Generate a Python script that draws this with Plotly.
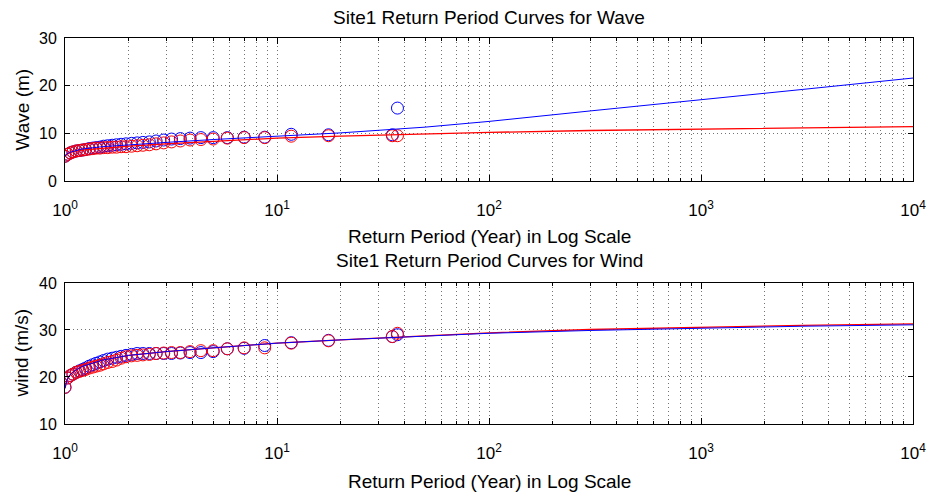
import plotly.graph_objects as go

# ---------------- data ----------------
return_period = [1.0, 1.03, 1.06, 1.09, 1.13, 1.17, 1.21, 1.25, 1.30, 1.35,
                 1.40, 1.46, 1.52, 1.59, 1.67, 1.75, 1.84, 1.94, 2.06, 2.19,
                 2.33, 2.5, 2.69, 2.92, 3.18, 3.5, 3.89, 4.375, 5.0, 5.83,
                 7.0, 8.75, 11.67, 17.5, 35.0, 37.0]

wave_red_pts = [5.2, 5.6, 5.9, 6.1, 6.3, 6.4, 6.5, 6.6, 6.7, 6.8,
                6.9, 6.9, 7.0, 7.0, 7.1, 7.1, 7.2, 7.2, 7.3, 7.4,
                7.5, 7.6, 7.8, 8.0, 8.2, 8.4, 8.6, 8.7, 8.8, 9.0,
                9.1, 9.1, 9.4, 9.5, 9.5, 9.5]
wave_blue_pts = [5.2, 5.6, 5.9, 6.1, 6.3, 6.4, 6.5, 6.6, 6.8, 6.9,
                 7.0, 7.1, 7.3, 7.4, 7.5, 7.6, 7.7, 7.8, 7.9, 8.0,
                 8.1, 8.2, 8.4, 8.6, 8.8, 8.9, 9.0, 9.1, 9.1, 9.1,
                 9.2, 9.2, 9.8, 9.7, 9.7, 15.3]
wind_red_pts = [17.8, 19.8, 20.3, 20.6, 21.0, 21.2, 21.4, 21.6, 21.9, 22.1,
                22.3, 22.5, 22.8, 23.1, 23.3, 23.6, 24.0, 24.3, 24.5, 24.6,
                24.7, 24.8, 25.0, 25.1, 25.2, 25.2, 25.4, 25.6, 25.6, 26.0,
                26.2, 26.2, 27.2, 27.7, 28.6, 29.3]
wind_blue_pts = [17.8, 19.8, 20.3, 20.6, 21.0, 21.3, 21.6, 21.9, 22.3, 22.6,
                 22.9, 23.2, 23.5, 23.8, 24.0, 24.2, 24.4, 24.6, 24.8, 25.0,
                 25.0, 25.0, 25.0, 25.0, 25.0, 25.1, 25.2, 25.2, 25.4, 26.0,
                 26.1, 26.7, 27.3, 27.8, 28.6, 29.0]

fit_period = [1.0, 1.02, 1.05, 1.1, 1.2, 1.5, 2, 3, 5, 10, 20, 50, 100,
              300, 1000, 3000, 10000]
wave_red_fit = [5.2, 5.6, 5.9, 6.2, 6.5, 6.9, 7.3, 7.8, 8.3, 9.0, 9.4, 9.9,
                10.2, 10.6, 10.9, 11.2, 11.4]
wave_blue_fit = [5.2, 5.7, 6.0, 6.3, 6.7, 7.2, 7.6, 8.1, 8.7, 9.4, 10.1, 11.3,
                 12.5, 14.7, 17.0, 19.2, 21.6]
wind_red_fit = [17.6, 19.3, 20.3, 21.2, 22.2, 23.6, 24.6, 25.4, 26.2, 27.2,
                27.9, 28.8, 29.4, 30.1, 30.6, 31.0, 31.3]
wind_blue_fit = [17.6, 19.3, 20.3, 21.2, 22.2, 23.6, 24.6, 25.4, 26.2, 27.2,
                 27.9, 28.7, 29.3, 29.9, 30.4, 30.8, 31.1]

decades = [1, 10, 100, 1000, 10000]
decade_labels = ["10<sup>0</sup>", "10<sup>1</sup>", "10<sup>2</sup>",
                 "10<sup>3</sup>", "10<sup>4</sup>"]
wave_ticks = [0, 10, 20, 30]
wind_ticks = [10, 20, 30, 40]

titles = ["Site1 Return Period Curves for Wave", "Site1 Return Period Curves for Wind"]
xlabel = "Return Period (Year) in Log Scale"
ylabels = ["Wave (m)", "wind (m/s)"]

# ---------------- figure ----------------
FONT = "Liberation Sans, Arial, Helvetica, sans-serif"
RED = "#ff0000"
BLUE = "#0000ff"
GRID = "rgba(0,0,0,0.55)"
DASH = "1px,3px"

# minor grid positions: integer multiples inside each decade
minor_vals = [m * d for d in decades[:-1] for m in range(2, 10)]

fig = go.Figure()


def add_panel(xa, ya, blue_pts, red_pts, blue_fit, red_fit):
    fig.add_trace(go.Scatter(x=return_period, y=blue_pts, mode="markers",
                             marker=dict(symbol="circle-open", size=12, color=BLUE,
                                         line=dict(width=1, color=BLUE)),
                             xaxis=xa, yaxis=ya, showlegend=False))
    fig.add_trace(go.Scatter(x=return_period, y=red_pts, mode="markers",
                             marker=dict(symbol="circle-open", size=12, color=RED,
                                         line=dict(width=1, color=RED)),
                             xaxis=xa, yaxis=ya, showlegend=False))
    fig.add_trace(go.Scatter(x=fit_period, y=red_fit, mode="lines",
                             line=dict(color=RED, width=1.3),
                             xaxis=xa, yaxis=ya, showlegend=False))
    fig.add_trace(go.Scatter(x=fit_period, y=blue_fit, mode="lines",
                             line=dict(color=BLUE, width=1),
                             xaxis=xa, yaxis=ya, showlegend=False))


add_panel("x", "y", wave_blue_pts, wave_red_pts, wave_blue_fit, wave_red_fit)
add_panel("x2", "y2", wind_blue_pts, wind_red_pts, wind_blue_fit, wind_red_fit)

xcommon = dict(type="log", range=[0, 4], tickmode="array", tickvals=decades,
               ticktext=decade_labels, showgrid=True, gridcolor=GRID,
               griddash=DASH, gridwidth=1, showline=True, linecolor="black",
               linewidth=1, mirror="ticks", ticks="inside", ticklen=6,
               tickcolor="black", zeroline=False, ticklabelstandoff=14,
               automargin=False,
               minor=dict(tickmode="array", tickvals=minor_vals, showgrid=True,
                          gridcolor=GRID, griddash=DASH, gridwidth=1,
                          ticks="inside", ticklen=3, tickcolor="black"),
               tickfont=dict(family=FONT, size=17, color="black"))
ycommon = dict(tickmode="array", showgrid=True, gridcolor=GRID,
               griddash=DASH, gridwidth=1, showline=True, linecolor="black",
               linewidth=1, mirror="ticks", ticks="inside", ticklen=5,
               tickcolor="black", zeroline=False, ticklabelstandoff=4,
               automargin=False,
               tickfont=dict(family=FONT, size=16, color="black"))

fig.update_layout(
    width=930, height=500,
    margin=dict(l=65, r=17, t=38, b=76),
    paper_bgcolor="white", plot_bgcolor="white",
    font=dict(family=FONT, color="black"),
    xaxis=dict(xcommon, anchor="y", domain=[0, 1]),
    yaxis=dict(ycommon, anchor="x", domain=[0.6295, 1], range=[0, 30],
               tickvals=wave_ticks),
    xaxis2=dict(xcommon, anchor="y2", domain=[0, 1]),
    yaxis2=dict(ycommon, anchor="x2", domain=[0, 0.3653], range=[10, 40],
                tickvals=wind_ticks),
)

TFS = 19
ann = [
    dict(text=titles[0], x=0.5, y=1.052, xref="paper", yref="paper",
         showarrow=False, font=dict(size=TFS), xanchor="center", yanchor="middle"),
    dict(text=titles[1], x=0.5, y=0.4223, xref="paper", yref="paper",
         showarrow=False, font=dict(size=TFS), xanchor="center", yanchor="middle"),
    dict(text=xlabel, x=0.5, y=0.487, xref="paper", yref="paper",
         showarrow=False, font=dict(size=TFS), xanchor="center", yanchor="middle"),
    dict(text=xlabel, x=0.5, y=-0.150, xref="paper", yref="paper",
         showarrow=False, font=dict(size=TFS), xanchor="center", yanchor="middle"),
    dict(text=ylabels[0], x=-0.0507, y=0.8148, xref="paper", yref="paper",
         showarrow=False, font=dict(size=TFS), textangle=-90,
         xanchor="center", yanchor="middle"),
    dict(text=ylabels[1], x=-0.0507, y=0.1826, xref="paper", yref="paper",
         showarrow=False, font=dict(size=TFS), textangle=-90,
         xanchor="center", yanchor="middle"),
]
fig.update_layout(annotations=ann)

fig.write_html("out.html")
